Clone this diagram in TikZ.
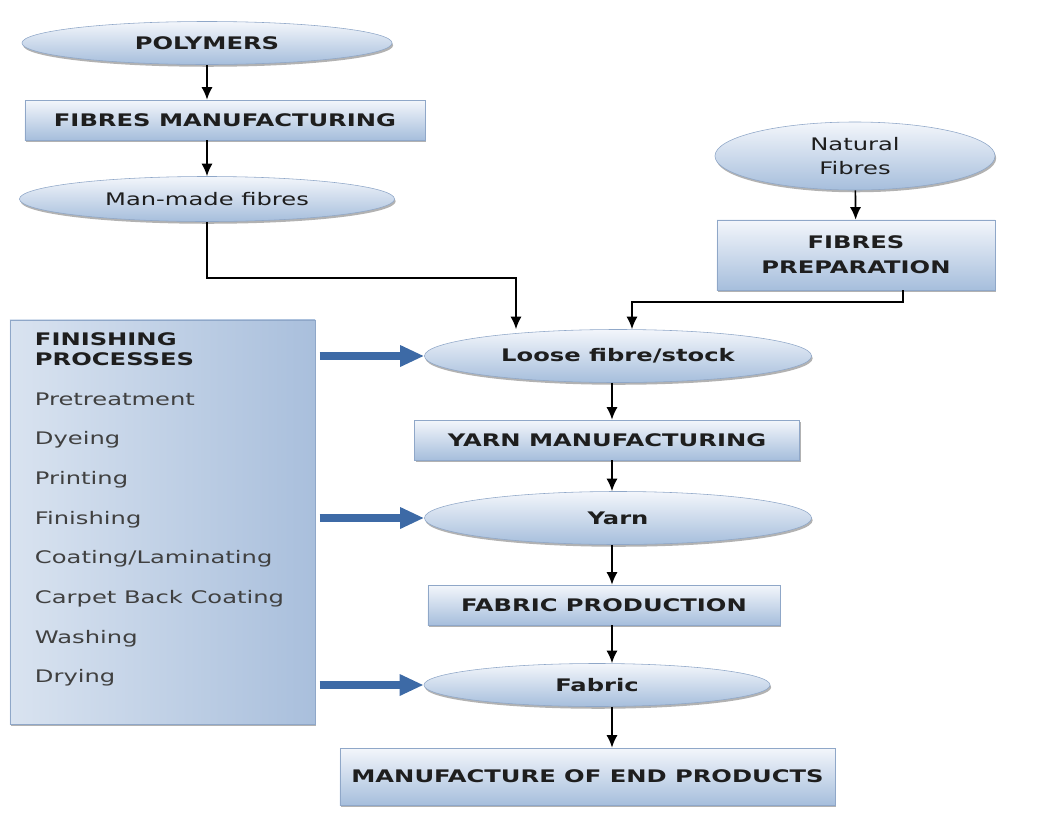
\documentclass[tikz,border=0pt]{standalone}
\usepackage{fontspec}
\setmainfont{DejaVu Sans}[FakeStretch=1.4]
\usetikzlibrary{shapes.geometric,arrows.meta,shadows}

\definecolor{paleblue}{HTML}{F3F6FB}
\definecolor{softblue}{HTML}{A6BEDC}
\definecolor{edgeblue}{HTML}{8FA7C8}
\definecolor{fatblue}{HTML}{3D6AA6}
\definecolor{inkgray}{HTML}{1E1E1E}
\definecolor{sideblue}{HTML}{D9E3F0}
\definecolor{midblue}{HTML}{E6EDF6}
\definecolor{deepblue}{HTML}{A9BFDC}
\newcommand\chartfont{\fontsize{12.3}{17.5}\selectfont}

\tikzset{
  base/.style={draw=edgeblue, top color=paleblue, bottom color=softblue,
    drop shadow={shadow xshift=0.8pt, shadow yshift=-1.6pt, fill=black!60},
    font=\chartfont, text=inkgray, align=center, inner sep=1pt},
  oval/.style={base, ellipse},
  stepbox/.style={base, rectangle},
  heavy/.style={font=\chartfont\bfseries},
  arr/.style={-{Latex[length=9pt,width=8pt]}, line width=1.2pt, black},
  fatarrow/.style={-{Triangle[length=0.6cm,width=0.5cm]}, line width=0.2cm, fatblue}
}

\begin{document}
\begin{tikzpicture}[x=0.025cm, y=-0.025cm]
  \useasboundingbox (0,0) rectangle (1060,817);

  % man-made branch
  \node[oval, heavy, minimum width=9.25cm, minimum height=1.075cm] (poly) at (207,43) {POLYMERS};
  \node[stepbox, heavy, minimum width=10cm, minimum height=1cm] (fman) at (225,120) {FIBRES MANUFACTURING};
  \node[oval, minimum width=9.375cm, minimum height=1.125cm] (manmade) at (207,199) {Man-made fibres};

  % natural branch
  \node[oval, minimum width=7cm, minimum height=1.7cm] (natural) at (855,156) {Natural\\Fibres};
  \node[stepbox, heavy, minimum width=6.95cm, minimum height=1.75cm] (fprep) at (856,255) {FIBRES\\PREPARATION};

  % main chain
  \node[oval, heavy, minimum width=9.675cm, minimum height=1.325cm] (loose) at (618,356) {Loose fibre/stock};
  \node[stepbox, heavy, minimum width=9.625cm, minimum height=1cm] (yman) at (607,440) {YARN MANUFACTURING};
  \node[oval, heavy, minimum width=9.675cm, minimum height=1.325cm] (yarn) at (618,518) {Yarn};
  \node[stepbox, heavy, minimum width=8.8cm, minimum height=1cm] (fprod) at (604,605) {FABRIC PRODUCTION};
  \node[oval, heavy, minimum width=8.65cm, minimum height=1.075cm] (fabric) at (597,685) {Fabric};
  \node[stepbox, heavy, minimum width=12.375cm, minimum height=1.425cm] (endprod) at (587.5,776.5) {MANUFACTURE OF END PRODUCTS};

  % finishing block
  \node[stepbox, left color=sideblue, middle color=midblue, right color=deepblue,
    minimum width=7.625cm, minimum height=10.1cm] (finish) at (162.5,522) {};
  \node[heavy, text=inkgray, anchor=base west] (fhead1) at (30,345) {FINISHING};
  \node[heavy, text=inkgray, anchor=base west] (fhead2) at (30,365) {PROCESSES};
  \foreach \step [count=\i from 0] in {Pretreatment, Dyeing, Printing, Finishing,
      Coating/Laminating, Carpet Back Coating, Washing, Drying}
    \node[font=\chartfont, text=inkgray!85, anchor=base west] (fitem\i) at (30,405+39.7*\i) {\step};

  % connectors
  \coordinate (spine) at (612,0);
  \coordinate (mbend) at (516,278);
  \coordinate (pbend) at (632,302);
  \draw[arr] (poly) -- (poly |- fman.north);
  \draw[arr] (fman.south -| manmade) -- (manmade);
  \draw[arr] (manmade) |- (mbend) -- (mbend |- loose.north);
  \draw[arr] (natural) -- (fprep);
  \draw[arr] ([xshift=1.175cm]fprep.south) |- (pbend) -- (pbend |- loose.north);
  \draw[arr] (loose.south -| spine) -- (yman.north -| spine);
  \draw[arr] (yman.south -| spine) -- (yarn.north -| spine);
  \draw[arr] (yarn.south -| spine) -- (fprod.north -| spine);
  \draw[arr] (fprod.south -| spine) -- (fabric.north -| spine);
  \draw[arr] (fabric.south -| spine) -- (endprod.north -| spine);

  \draw[fatarrow] ([xshift=3pt]finish.east |- loose) -- (loose.west);
  \draw[fatarrow] ([xshift=3pt]finish.east |- yarn) -- (yarn.west);
  \draw[fatarrow] ([xshift=3pt]finish.east |- fabric) -- (fabric.west);
\end{tikzpicture}
\end{document}
